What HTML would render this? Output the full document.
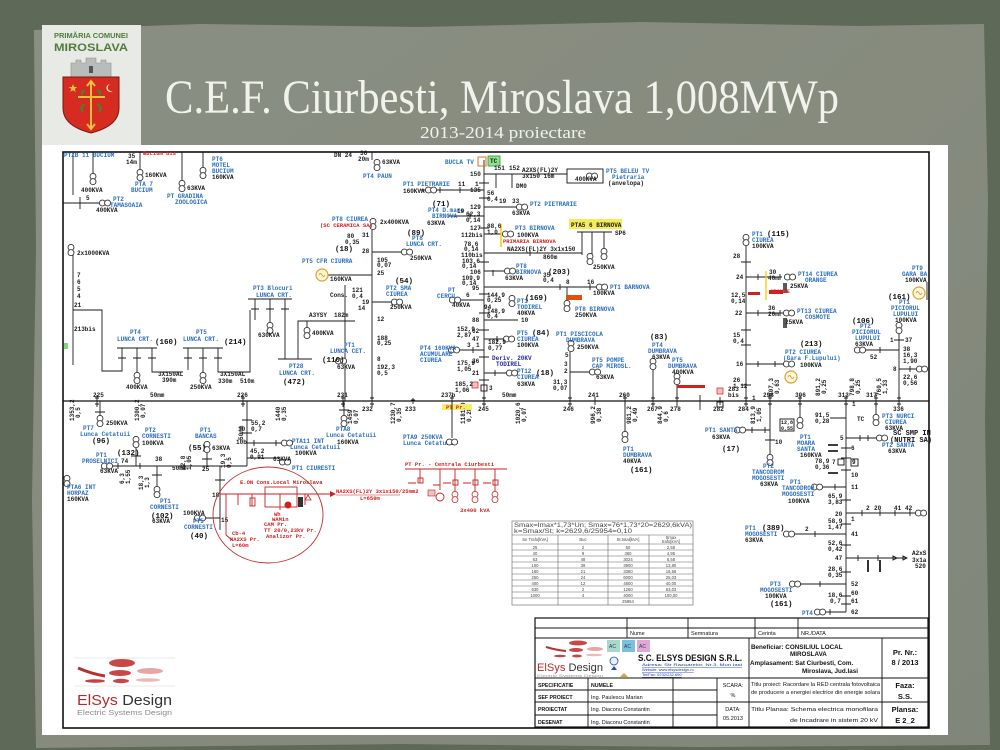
<!DOCTYPE html>
<html><head><meta charset="utf-8">
<style>
html,body{margin:0;padding:0;width:1000px;height:750px;overflow:hidden;background:#5f6957}
svg{display:block}
.t{font-family:"Liberation Mono",monospace;font-weight:bold;font-size:6px;fill:#1a1a1a}
.b{font-family:"Liberation Mono",monospace;font-weight:bold;font-size:6px;fill:#2c6fbf}
.r{font-family:"Liberation Mono",monospace;font-weight:bold;font-size:5.5px;fill:#d02020}
.k{font-family:"Liberation Mono",monospace;font-weight:bold;font-size:7.5px;fill:#111}
.s{font-family:"Liberation Sans",sans-serif;font-size:5.5px;fill:#111}
.sb{font-family:"Liberation Sans",sans-serif;font-weight:bold;fill:#111}
.ln{stroke:#1a1a1a;stroke-width:0.9;fill:none}
.rl{stroke:#c82020;stroke-width:0.9;fill:none}
.tr{stroke:#1a1a1a;stroke-width:0.8;fill:#fff}
.tb{stroke:#111;stroke-width:0.9;fill:none}
</style></head><body>
<svg width="1000" height="750" viewBox="0 0 1000 750" xmlns="http://www.w3.org/2000/svg">
<defs>
<g id="tv"><circle cx="0" cy="-2.6" r="3" class="tr"/><circle cx="0" cy="2.6" r="3" class="tr"/></g>
<g id="th"><circle cx="-2.6" cy="0" r="3" class="tr"/><circle cx="2.6" cy="0" r="3" class="tr"/></g>
<g id="trv"><circle cx="0" cy="-2.6" r="3" fill="#fff" stroke="#c82020" stroke-width="0.8"/><circle cx="0" cy="2.6" r="3" fill="#fff" stroke="#c82020" stroke-width="0.8"/></g>
<g id="gen"><circle cx="0" cy="0" r="6" fill="#fff6dc" stroke="#e0a028" stroke-width="1.2"/><path d="M-3,0 q1.5,-3 3,0 t3,0" stroke="#e0a028" stroke-width="0.9" fill="none"/></g>
<linearGradient id="pap" x1="0" y1="0" x2="1" y2="1"><stop offset="0" stop-color="#8a8f83"/><stop offset="0.5" stop-color="#868b7e"/><stop offset="1" stop-color="#80867a"/></linearGradient>
</defs>

<!-- background frame -->
<rect x="0" y="0" width="1000" height="750" fill="#5f6957"/>
<path d="M34,30 L200,24 L420,27 L640,22 L860,26 L984,24 L988,200 L985,420 L990,745 L700,747 L400,744 L36,748 L32,500 L36,250 Z" fill="url(#pap)"/>

<!-- header logo -->
<rect x="42" y="25" width="99" height="121" fill="#e8eae5"/>
<text x="91" y="38" text-anchor="middle" font-family="Liberation Sans,sans-serif" font-weight="bold" font-size="7.5" fill="#4f7d3c" textLength="74" lengthAdjust="spacingAndGlyphs">PRIMĂRIA COMUNEI</text>
<text x="91" y="51" text-anchor="middle" font-family="Liberation Sans,sans-serif" font-weight="bold" font-size="11" fill="#4f7d3c" textLength="74" lengthAdjust="spacingAndGlyphs">MIROSLAVA</text>
<path d="M71,77 L71,63 L76,63 L76,60 L81,60 L81,63 L86,63 L86,58 L96,58 L96,63 L101,63 L101,60 L106,60 L106,63 L111,63 L111,77 Z" fill="#b9bdba" stroke="#8d918e" stroke-width="0.6"/>
<rect x="89" y="66" width="4" height="7" fill="#555"/>
<path d="M63,77 L119,77 L119,108 Q119,126 91,133 Q63,126 63,108 Z" fill="#d52b20" stroke="#7a1712" stroke-width="1"/>
<path d="M91,82 L91,128 M78,97 L105,97 M87,86 L91,81 L95,86 M87,124 L91,129 L95,124" stroke="#f0c040" stroke-width="2" fill="none"/>
<path d="M85,104 q-6,3 -2,8 M97,104 q6,3 2,8 M85,90 q-5,2 -2,5 M97,90 q5,2 2,5" stroke="#3a8a30" stroke-width="2" fill="none"/>
<path d="M73,84 l1.2,3 3,0 -2.4,2 1,3 -2.8,-1.8 -2.8,1.8 1,-3 -2.4,-2 3,0 z" fill="#f0c040"/>
<path d="M110,84 a4,4 0 1,0 3,7 a3,3 0 1,1 -3,-7 z" fill="#f0e0b0"/>

<!-- title -->
<text x="165" y="113" font-family="Liberation Serif,serif" font-size="48" fill="#f2f2ec" textLength="674" lengthAdjust="spacingAndGlyphs">C.E.F. Ciurbesti, Miroslava 1,008MWp</text>
<text x="420" y="138" font-family="Liberation Serif,serif" font-size="17" fill="#f2f2ec" textLength="166" lengthAdjust="spacingAndGlyphs">2013-2014 proiectare</text>

<!-- white sheet -->
<rect x="42" y="145" width="906" height="590" fill="#ffffff"/>
<rect x="63" y="152" width="866" height="576" fill="none" stroke="#111" stroke-width="1.6"/>

<!-- main bus -->
<path d="M63,401 H929" stroke="#111" stroke-width="1.3"/>
<g class="ln">
<path d="M97,395v12M95,398h4M95,404h4 M243,395v12M241,398h4M241,404h4 M343,395v12M341,398h4M341,404h4 M372,395v12M370,398h4M370,404h4 M413,398v6M411,400h4 M452,395v12M450,398h4 M484,395v12M482,398h4M482,404h4 M570,395v12M568,398h4M568,404h4 M595,397v8 M625,395v12M623,398h4 M653,395v12M651,398h4M651,404h4 M677,395v12M675,398h4 M720,397v8 M746,395v12M744,398h4M744,404h4 M770,395v12M768,398h4M768,404h4 M800,395v12M798,398h4M798,404h4 M846,395v12M844,398h4M844,404h4 M876,395v12M874,398h4M874,404h4 M899,395v12M897,398h4M897,404h4"/>
</g>
<g class="t">
<text x="93" y="397">225</text><text x="150" y="397">50mm</text><text x="237" y="397">226</text><text x="337" y="397">231</text>
<text x="441" y="397">237b</text><text x="502" y="397">50mm</text><text x="588" y="397">241</text><text x="619" y="397">260</text>
<text x="362" y="411">232</text><text x="405" y="411">233</text><text x="478" y="411">245</text><text x="563" y="411">246</text>
<text x="647" y="411">267</text><text x="670" y="411">278</text><text x="713" y="411">282</text><text x="738" y="411">284</text>
<text x="763" y="397">298</text><text x="795" y="397">306</text><text x="838" y="397">313</text><text x="866" y="397">317</text><text x="893" y="411">336</text>
</g>

<!-- ===== upper left ===== -->
<g class="ln">
<path d="M73,152V195 M93,152V173 M140,152V169 M182,152V180 M203,152V167 M63,203H99 M80,197v12 M73,255V365 M73,310H102V371H113"/>
<path d="M117,348H157 M122,348V371H113 M137,348V372 M152,348V372H183 M183,348H223 M188,348V370 M203,348V372 M218,348V372H250V310"/>
<path d="M248,299H292 M255,299V320 M270,299V322 M285,299V359 M278,359H312 M298,359V321H355 M307,321V327"/>
<path d="M328,275H372 M345,285V401 M336,361H345 M372,230V401 M372,252H402 M372,302H392 M372,160V152"/>
<path d="M118,358h8M133,358h8M148,358h8M184,358h8M199,358h8M214,358h8M251,309h8M266,309h8M281,309h8"/>
</g>
<use href="#tv" x="93" y="179"/><use href="#tv" x="140" y="175"/><use href="#tv" x="182" y="186"/><use href="#tv" x="203" y="173"/>
<use href="#th" x="105" y="203"/><use href="#tv" x="71" y="250"/>
<use href="#tv" x="137" y="378"/><use href="#tv" x="203" y="378"/><use href="#tv" x="270" y="328"/><use href="#tv" x="307" y="333"/>
<use href="#th" x="341" y="361"/><use href="#gen" x="322" y="275"/><use href="#tv" x="373" y="224"/><use href="#th" x="407" y="252"/><use href="#th" x="397" y="302"/><use href="#tv" x="377" y="165"/>
<g class="b">
<text x="64" y="157">PTZB 11 BUCIUM</text>
<text x="135" y="186">PTA 7</text><text x="131" y="192">BUCIUM</text>
<text x="167" y="198">PT GRADINA</text><text x="175" y="204">ZOOLOGICA</text>
<text x="212" y="161">PT6</text><text x="212" y="167">MOTEL</text><text x="212" y="173">BUCIUM</text>
<text x="113" y="201">PT2</text><text x="110" y="207">TAMASOAIA</text>
<text x="130" y="334">PT4</text><text x="117" y="341">LUNCA CRT.</text>
<text x="196" y="334">PT5</text><text x="183" y="341">LUNCA CRT.</text>
<text x="253" y="290">PT3 Blocuri</text><text x="256" y="297">LUNCA CRT.</text>
<text x="289" y="368">PT28</text><text x="279" y="375">LUNCA CRT.</text>
<text x="302" y="263">PT5 CFR CIURRA</text>
<text x="332" y="221">PT8 CIUREA</text>
<text x="344" y="347">PT1</text><text x="330" y="353">LUNCA CET.</text>
<text x="363" y="178">PT4 PAUN</text>
<text x="412" y="240">PT8</text><text x="406" y="246">LUNCA CRT.</text>
<text x="386" y="290">PT2 SMA</text><text x="386" y="296">CIUREA</text>
</g>
<g class="t">
<text x="81" y="192">400KVA</text><text x="145" y="177">160KVA</text><text x="187" y="190">63KVA</text><text x="212" y="179">160KVA</text>
<text x="96" y="212">400KVA</text><text x="86" y="200">5</text><text x="128" y="158">35</text><text x="126" y="164">14m</text>
<text x="77" y="255">2x1000KVA</text><text x="77" y="277">7</text><text x="77" y="284">6</text><text x="77" y="291">5</text><text x="77" y="298">4</text><text x="74" y="307">21</text>
<text x="74" y="331">213bis</text><text x="126" y="389">400KVA</text><text x="190" y="389">250KVA</text>
<text x="158" y="376">3X150AL</text><text x="162" y="382">390m</text><text x="220" y="376">3X150AL</text><text x="218" y="383">330m</text><text x="240" y="383">510m</text>
<text x="258" y="337">630KVA</text><text x="309" y="317">A3YSY</text><text x="334" y="317">182m</text><text x="312" y="335">400KVA</text>
<text x="337" y="369">63KVA</text><text x="330" y="281">160KVA</text><text x="330" y="297">Cons.</text><text x="352" y="292">121</text><text x="352" y="298">0,4</text>
<text x="347" y="238">80</text><text x="345" y="244">0,35</text><text x="334" y="157">DN 24</text><text x="360" y="155">36</text><text x="358" y="161">20m</text><text x="382" y="164">63KVA</text>
<text x="380" y="224">2x400KVA</text><text x="362" y="237">31</text><text x="362" y="253">28</text><text x="377" y="262">105</text><text x="377" y="267">0,07</text><text x="377" y="275">25</text>
<text x="410" y="260">250KVA</text><text x="390" y="309">250KVA</text><text x="362" y="304">19</text><text x="377" y="321">12</text>
<text x="377" y="340">188</text><text x="377" y="345">0,25</text><text x="377" y="361">8</text><text x="377" y="369">192,3</text><text x="377" y="375">0,5</text><text x="358" y="310">14</text>
</g>
<g class="k"><text x="155" y="344">(160)</text><text x="224" y="344">(214)</text><text x="283" y="384">(472)</text><text x="335" y="251">(18)</text><text x="322" y="362">(110)</text><text x="407" y="235">(89)</text><text x="395" y="283">(54)</text></g>
<text class="r" x="143" y="155">Bucium bis</text>
<text class="r" x="320" y="227">(SC CERAMICA SA)</text>
<rect x="64" y="343" width="4" height="6" fill="#7ed67e"/>

<!-- ===== center column ===== -->
<g class="ln">
<path d="M484,160V401 M484,174H567 M420,190H484 M484,207H517 M448,216H484 M501,234H484 M484,253H582 M484,271H504 M484,287H596 M461,300H484 M484,320H518 M484,339H503 M460,350H484 M484,373H507 M496,174v14 M512,174v14 M577,232H612 M582,232V255 M592,232V255 M604,232V250 M567,287V302 M570,352V401 M570,372H590 M653,368V401 M677,385V401"/>
<path d="M479,183h10M479,198h10M479,228h10M479,262h10M479,294h10M479,313h10M479,330h10M479,357h10M479,380h10 M440,187v6M460,187v6M470,213v6M530,250v6M560,284v6M590,284v6M493,270v6M497,336v6M495,370v6M473,347v6"/>
</g>
<rect x="567" y="169" width="36" height="14" class="tb"/>
<rect x="478" y="157" width="8" height="9" fill="none" stroke="#e07020" stroke-width="1"/>
<rect x="488" y="156" width="12" height="10" fill="#8ee08e" stroke="#2a9a2a" stroke-width="0.8"/>
<text class="t" x="490" y="163">TC</text>
<path d="M501,224V247" stroke="#f0d000" stroke-width="1.5"/>
<rect x="569" y="219" width="53" height="10" fill="#f5ec58"/>
<rect x="566" y="295" width="16" height="5" fill="#e05010"/>
<rect x="472" y="382" width="6" height="6" fill="#f6c0c0" stroke="#d02020" stroke-width="0.7"/>
<rect x="481" y="385" width="6" height="6" class="tb"/>
<use href="#th" x="592" y="176"/><use href="#th" x="431" y="190"/><use href="#th" x="522" y="207"/><use href="#th" x="508" y="234"/>
<use href="#th" x="510" y="271"/><use href="#th" x="602" y="287"/><use href="#tv" x="590" y="259"/><use href="#tv" x="604" y="254"/><use href="#tv" x="567" y="306"/>
<use href="#th" x="455" y="300"/><use href="#tv" x="512" y="301"/><use href="#th" x="509" y="339"/><use href="#th" x="454" y="350"/><use href="#th" x="512" y="373"/>
<use href="#tv" x="571" y="346"/><use href="#th" x="595" y="372"/><use href="#tv" x="653" y="364"/><use href="#tv" x="677" y="379"/>
<g class="b">
<text x="445" y="164">BUCLA TV</text>
<text x="606" y="173">PT5 BELEU TV</text><text x="612" y="179">Pietraria</text>
<text x="403" y="186">PT1 PIETRARIE</text>
<text x="530" y="206">PT2 PIETRARIE</text>
<text x="428" y="212">PT4 D.mare</text><text x="432" y="218">BIRNOVA</text>
<text x="515" y="230">PT3 BIRNOVA</text>
<text x="516" y="268">PT8</text><text x="516" y="274">BIRNOVA</text>
<text x="610" y="289">PT1 BARNOVA</text>
<text x="575" y="311">PT8 BIRNOVA</text>
<text x="448" y="292">PT</text><text x="437" y="298">CERCU</text>
<text x="517" y="303">PT1</text><text x="517" y="309">TODIREL</text>
<text x="517" y="335">PT5</text><text x="517" y="341">CIUREA</text>
<text x="420" y="350">PT4 160KVA</text><text x="420" y="356">ACUMULARE</text><text x="420" y="362">CIUREA</text>
<text x="517" y="373">PT12</text><text x="517" y="379">CIUREA</text>
<text x="556" y="336">PT1 PISCICOLA</text><text x="566" y="342">DUMBRAVA</text>
<text x="592" y="362">PT5 POMPE</text><text x="592" y="368">CAP MIROSL.</text>
<text x="652" y="347">PT4</text><text x="648" y="353">DUMBRAVA</text>
<text x="672" y="362">PT5</text><text x="668" y="368">DUMBRAVA</text>
</g>
<text x="492" y="360" font-family="Liberation Mono,monospace" font-weight="bold" font-size="6" fill="#2a2a9a">Deriv. 20KV</text>
<text x="496" y="366" font-family="Liberation Mono,monospace" font-weight="bold" font-size="6" fill="#2a2a9a">TODIREL</text>
<g class="t">
<text x="470" y="176">150</text><text x="494" y="170">151</text><text x="509" y="170">152</text><text x="522" y="172">A2XS(FL)2Y</text><text x="522" y="178">3x150 16m</text>
<text x="575" y="181">400KVA</text><text x="608" y="185">(anvelopa)</text><text x="516" y="188">DM0</text>
<text x="403" y="193">160KVA</text><text x="458" y="186">11</text><text x="475" y="186">1</text>
<text x="470" y="192">135</text><text x="487" y="195">56</text><text x="487" y="201">0,4</text><text x="470" y="209">129</text><text x="499" y="203">19</text><text x="512" y="203">33</text><text x="512" y="215">63KVA</text>
<text x="427" y="225">63KVA</text><text x="457" y="213">19</text><text x="466" y="216">62,3</text><text x="466" y="222">0,14</text>
<text x="470" y="230">127</text><text x="487" y="228">88,6</text><text x="487" y="234">1,0</text><text x="517" y="237">100KVA</text>
<text x="461" y="237">112bis</text><text x="464" y="246">78,6</text><text x="464" y="251">0,14</text>
<text x="461" y="257">110bis</text><text x="507" y="251">NA2XS(FL)2Y 3x1x150</text><text x="543" y="259">860m</text>
<text x="462" y="263">103,6</text><text x="462" y="268">0,14</text><text x="470" y="274">106</text><text x="505" y="280">63KVA</text>
<text x="462" y="280">109,9</text><text x="462" y="285">0,14</text><text x="472" y="290">95</text><text x="543" y="277">35</text><text x="543" y="282">0,4</text>
<text x="593" y="295">100KVA</text><text x="566" y="284">8</text><text x="587" y="284">16</text>
<text x="571" y="227">PTA5 6 BIRNOVA</text><text x="615" y="235">SP6</text><text x="593" y="269">250KVA</text><text x="575" y="317">250KVA</text>
<text x="452" y="307">40KVA</text><text x="466" y="297">6</text><text x="487" y="297">144,9</text><text x="487" y="302">0,25</text><text x="484" y="309">94</text>
<text x="517" y="315">40KVA</text><text x="487" y="313">148,9</text><text x="487" y="318">0,4</text><text x="472" y="322">88</text><text x="521" y="322">10</text>
<text x="457" y="331">152,9</text><text x="457" y="337">2,87</text><text x="472" y="333">62</text><text x="472" y="341">47</text>
<text x="517" y="347">100KVA</text><text x="488" y="344">182,9</text><text x="488" y="350">0,77</text>
<text x="467" y="347">3</text><text x="476" y="347">1</text><text x="472" y="363">36</text>
<text x="457" y="365">175,9</text><text x="457" y="371">1,05</text><text x="472" y="375">21</text><text x="517" y="386">63KVA</text>
<text x="455" y="386">185,2</text><text x="455" y="392">1,06</text><text x="489" y="390">3</text>
<text x="577" y="349">250KVA</text><text x="565" y="357">5</text><text x="564" y="366">3</text><text x="564" y="373">2</text><text x="596" y="379">63KVA</text>
<text x="553" y="384">31,3</text><text x="553" y="390">0,07</text><text x="652" y="359">63KVA</text><text x="672" y="374">400KVA</text>
<text x="728" y="391">283</text><text x="728" y="397">bis</text>
</g>
<g class="k"><text x="432" y="206">(71)</text><text x="548" y="274">(203)</text><text x="525" y="300">(169)</text><text x="532" y="335">(84)</text><text x="536" y="375">(18)</text><text x="650" y="339">(83)</text></g>
<text class="r" x="503" y="243" font-size="4">PRIMARIA BIRNOVA</text>
<rect x="677" y="385" width="28" height="3" fill="#d02020"/>
<rect x="717" y="388" width="6" height="6" fill="#f6c0c0" stroke="#d02020" stroke-width="0.7"/>
<rect x="717" y="402" width="6" height="5" class="tb"/>

<!-- ===== right upper ===== -->
<g class="ln">
<path d="M746,245V401 M746,277H782 M746,313H783 M746,364H785 M899,334V401 M863,350H899 M899,369H918 M927,282V300"/>
<path d="M741,262h10M741,330h10M741,345h10M741,385h10 M758,274v6M780,274v6M758,310v6M780,310v6M758,361v6M775,361v6M880,347v6M910,366v6M894,340h10"/>
</g>
<path d="M766,271V300" stroke="#f0d000" stroke-width="1.3"/>
<rect x="748" y="292" width="12" height="3" fill="#d02020"/>
<rect x="769" y="290" width="14" height="4" fill="#d02020"/>
<use href="#tv" x="746" y="240"/><use href="#th" x="790" y="277"/><use href="#th" x="789" y="313"/><use href="#th" x="789" y="364"/>
<use href="#gen" x="791" y="377"/><use href="#tv" x="899" y="328"/><use href="#th" x="860" y="350"/><use href="#th" x="922" y="369"/><use href="#gen" x="919" y="293"/>
<path d="M784,283v10M786,283v10" stroke="#222" stroke-width="1.5"/>
<path d="M784,318v10M786,318v10" stroke="#222" stroke-width="1.5"/>
<g class="b">
<text x="752" y="236">PT1</text><text x="752" y="242">CIUREA</text>
<text x="798" y="276">PT14 CIUREA</text><text x="805" y="282">ORANGE</text>
<text x="797" y="313">PT13 CIUREA</text><text x="805" y="319">COSMOTE</text>
<text x="785" y="354">PT2 CIUREA</text><text x="783" y="360">(Gara F.Lupului)</text>
<text x="899" y="304">PT1</text><text x="891" y="310">PICIORUL</text><text x="893" y="316">LUPULUI</text>
<text x="860" y="328">PT2</text><text x="852" y="334">PICIORUL</text><text x="855" y="340">LUPULUI</text>
<text x="912" y="270">PT9</text><text x="902" y="276">GARA BA</text>
</g>
<g class="t">
<text x="752" y="248">100KVA</text><text x="733" y="258">28</text><text x="736" y="279">24</text><text x="769" y="274">30</text><text x="768" y="280">40m</text>
<text x="790" y="288">25KVA</text><text x="731" y="297">12,5</text><text x="731" y="303">0,14</text><text x="735" y="315">22</text><text x="768" y="310">36</text><text x="768" y="316">20m</text>
<text x="785" y="324">25KVA</text><text x="733" y="337">15</text><text x="733" y="343">0,4</text><text x="736" y="366">16</text><text x="800" y="367">100KVA</text>
<text x="733" y="382">26</text><text x="733" y="388">1,12</text><text x="752" y="400">1</text>
<text x="895" y="322">100KVA</text><text x="855" y="346">63KVA</text><text x="890" y="342">1</text><text x="905" y="342">37</text>
<text x="903" y="351">38</text><text x="903" y="357">16,3</text><text x="903" y="363">1,90</text><text x="870" y="359">52</text>
<text x="893" y="371">8</text><text x="903" y="379">22,6</text><text x="903" y="385">0,56</text><text x="905" y="282">100KVA</text>
</g>
<g class="k"><text x="767" y="236">(115)</text><text x="800" y="346">(213)</text><text x="888" y="299">(161)</text><text x="852" y="323">(106)</text></g>
<text class="r" x="770" y="293" font-size="3.5" fill="#fff">ORANGE</text>

<!-- rotated values below bus -->
<g class="t" font-size="5">
<text transform="translate(74,421) rotate(-90)">1353,2</text><text transform="translate(80,418) rotate(-90)">0,5</text>
<text transform="translate(139,421) rotate(-90)">1300,2</text><text transform="translate(145,418) rotate(-90)">0,07</text>
<text transform="translate(280,421) rotate(-90)">1440</text><text transform="translate(286,421) rotate(-90)">0,35</text>
<text transform="translate(352,424) rotate(-90)">1459</text><text transform="translate(358,424) rotate(-90)">0,07</text>
<text transform="translate(395,424) rotate(-90)">1230,7</text><text transform="translate(401,422) rotate(-90)">0,35</text>
<text transform="translate(465,424) rotate(-90)">1181,0</text><text transform="translate(471,422) rotate(-90)">0,28</text>
<text transform="translate(520,424) rotate(-90)">1020,6</text><text transform="translate(526,422) rotate(-90)">0,07</text>
<text transform="translate(595,424) rotate(-90)">996,2</text><text transform="translate(601,422) rotate(-90)">0,38</text>
<text transform="translate(631,424) rotate(-90)">981,2</text><text transform="translate(637,422) rotate(-90)">0,49</text>
<text transform="translate(662,424) rotate(-90)">844,9</text><text transform="translate(668,422) rotate(-90)">0,6</text>
<text transform="translate(755,424) rotate(-90)">813,9</text><text transform="translate(761,422) rotate(-90)">1,05</text>
<text transform="translate(773,396) rotate(-90)">807,3</text><text transform="translate(779,394) rotate(-90)">0,63</text>
<text transform="translate(820,396) rotate(-90)">891,2</text><text transform="translate(826,394) rotate(-90)">0,25</text>
<text transform="translate(854,396) rotate(-90)">798,8</text><text transform="translate(860,394) rotate(-90)">0,25</text>
<text transform="translate(881,396) rotate(-90)">760,5</text><text transform="translate(887,394) rotate(-90)">1,33</text>
<text transform="translate(243,440) rotate(-90)">50mm</text><text transform="translate(185,470) rotate(-90)">22,8</text><text transform="translate(191,470) rotate(-90)">1,05</text>
<text transform="translate(124,484) rotate(-90)">6,3</text><text transform="translate(130,484) rotate(-90)">1,55</text>
<text transform="translate(143,490) rotate(-90)">18,3</text><text transform="translate(149,488) rotate(-90)">1,3</text>
<text transform="translate(225,468) rotate(-90)">19,3</text><text transform="translate(231,468) rotate(-90)">0,5</text>
</g>

<!-- ===== lower left ===== -->
<g class="ln">
<path d="M100,401V417 M136,448V466 M112,466H247 M157,466V487 M207,451V466 M247,401V466 M247,443H282 M344,401V417 M220,466V530 M204,518H220 M63,477H70 M247,458H280"/>
<path d="M95,412h10M131,456h10M152,475h10M202,459h10M242,420h10M242,433h10M254,440v6M276,440v6M339,410h10M215,480h10M118,463v6M140,463v6"/>
</g>
<use href="#tv" x="100" y="421"/><use href="#tv" x="136" y="442"/><use href="#th" x="107" y="466"/><use href="#tv" x="157" y="492"/>
<use href="#tv" x="207" y="447"/><use href="#th" x="287" y="443"/><use href="#th" x="285" y="462"/><use href="#tv" x="344" y="421"/><use href="#th" x="200" y="518"/><use href="#tv" x="67" y="481"/>
<g class="b">
<text x="83" y="430">PT7</text><text x="80" y="436">Lunca Cetatuii</text>
<text x="145" y="432">PT2</text><text x="142" y="438">CORNESTI</text>
<text x="96" y="457">PT1</text><text x="82" y="463">PROSELNICI</text>
<text x="160" y="503">PT1</text><text x="150" y="509">CORNESTI</text>
<text x="200" y="432">PT1</text><text x="195" y="438">BANCAS</text>
<text x="292" y="443">PTA11 INT</text><text x="290" y="449">Lunca Cetatuii</text>
<text x="292" y="470">PT1 CIURESTI</text>
<text x="193" y="523">PT5</text><text x="184" y="529">CORNESTI</text>
<text x="67" y="489">PTA6 INT</text><text x="67" y="495">HORPAZ</text>
<text x="336" y="431">PTA8</text><text x="326" y="437">Lunca Cetatuii</text>
<text x="403" y="439">PTA9 250KVA</text><text x="403" y="445">Lunca Cetatuii</text>
<text x="623" y="451">PT1</text><text x="623" y="457">DUMBRAVA</text>
</g>
<g class="t">
<text x="106" y="425">250KVA</text><text x="142" y="445">100KVA</text><text x="100" y="473">63KVA</text><text x="121" y="463">74</text><text x="155" y="461">38</text>
<text x="172" y="470">50mm</text><text x="202" y="471">25</text><text x="152" y="523">63KVA</text><text x="212" y="450">63KVA</text>
<text x="238" y="431">10</text><text x="236" y="444">10b</text><text x="251" y="425">55,2</text><text x="251" y="431">0,7</text><text x="295" y="455">100KVA</text>
<text x="250" y="453">45,2</text><text x="250" y="459">0,91</text><text x="273" y="461">63KVA</text><text x="212" y="497">18</text><text x="221" y="522">15</text>
<text x="183" y="515">100KVA</text><text x="67" y="501">160KVA</text><text x="337" y="444">160KVA</text>
<text x="623" y="463">40KVA</text>
</g>
<g class="k"><text x="92" y="443">(96)</text><text x="117" y="455">(132)</text><text x="151" y="518">(102)</text><text x="188" y="450">(55)</text><text x="190" y="538">(40)</text><text x="630" y="472">(161)</text></g>

<!-- red circle area -->
<ellipse cx="268" cy="515" rx="55" ry="48" fill="none" stroke="#c03030" stroke-width="0.9"/>
<g class="rl">
<path d="M220,494H335 M226,494V535 M238,494V505 M252,494V506 M280,494V510 M305,494V505 M226,535L232,540"/>
<rect x="265" y="487" width="32" height="20"/>
<rect x="250" y="498" width="5" height="8"/>
</g>
<path d="M330,491L336,494L330,497Z" fill="#c82020"/>
<circle cx="288" cy="505" r="3.5" fill="#d02020"/>
<rect x="298" y="497" width="5" height="10" fill="#333"/>
<path d="M305,500l3,-5 3,5z" fill="none" stroke="#c82020" stroke-width="0.8"/>
<g class="r">
<text x="240" y="484">E.ON Cons.Local Miroslava</text>
<text x="336" y="493">NA2XS(FL)2Y 3x1x150/25mm2</text><text x="360" y="500">L=650m</text>
<text x="274" y="516">Wh</text><text x="272" y="521">WAMin</text>
<text x="264" y="526">CAM Pr.</text><text x="264" y="532">TT 20/0,23kV Pr.</text><text x="266" y="538">Analizor Pr.</text>
<text x="232" y="535">Cb-4</text><text x="230" y="541">NA2XS Pr.</text><text x="232" y="547">L=60m</text>
</g>
<path d="M336,495H400" stroke="#c82020" stroke-width="0.6"/>

<!-- PT Pr centrala -->
<text class="r" x="405" y="466" font-size="6.5">PT Pr. - Centrala Ciurbesti</text>
<g class="rl">
<path d="M405,469H507 M420,469V483 M440,469V490 M455,469V492 M475,469V492 M495,469V492 M433,485H440"/>
<rect x="418" y="478" width="5" height="5"/><rect x="453" y="480" width="5" height="5"/><rect x="473" y="480" width="5" height="5"/><rect x="493" y="480" width="5" height="5"/>
<path d="M408,483h8M443,483h8M463,483h8M483,483h8"/>
</g>
<use href="#trv" x="455" y="497"/><use href="#trv" x="475" y="497"/><use href="#trv" x="495" y="497"/>
<circle cx="440" cy="497" r="4" fill="none" stroke="#c82020" stroke-width="0.9"/>
<rect x="428" y="490" width="7" height="6" fill="#f0c0c0" stroke="#c82020" stroke-width="0.6"/>
<text class="r" x="460" y="512">3x400 kVA</text>
<rect x="442" y="404" width="30" height="6" fill="#f4ec70"/>
<text class="r" x="446" y="409" font-size="4.5">PT Pr.</text>
<g class="ln"><path d="M452,401V438 M625,401V432"/></g>
<use href="#th" x="452" y="442"/><use href="#tv" x="625" y="437"/>

<!-- ===== lower right ===== -->
<g class="ln">
<path d="M846,401V612 M876,401V415 M846,438H877 M800,401V418 M770,401V455 M745,430H770 M700,395V410 M820,487H846 M846,513H917 M794,534H846 M846,558H907 M800,584H846 M826,612H846 M830,418H846"/>
<path d="M841,448h10M841,458h10M841,470h10M841,500h10M841,524h10M841,545h10M841,572h10M841,596h10M841,604h10 M860,435v6M868,435v6M862,510v6M880,510v6M895,510v6M910,510v6M835,484v6M815,531v6M858,555v6M878,555v6M820,581v6M830,609v6M752,427v6M765,427v6M765,440h10"/>
<path d="M897,558l-4,-2v4z M907,558l-4,-2v4z"/>
</g>
<path d="M828,445h10M828,451h10M828,473h10" stroke="#222" stroke-width="1.8"/>
<path d="M880,560v12M868,560v12" stroke="#333" stroke-width="2"/>
<rect x="838" y="459" width="6" height="6" class="tb"/><rect x="851" y="459" width="7" height="7" class="tb"/>
<rect x="780" y="419" width="14" height="12" class="tb"/>
<use href="#tv" x="876" y="420"/><use href="#th" x="882" y="438"/><use href="#tv" x="800" y="423"/><use href="#tv" x="770" y="460"/>
<use href="#th" x="740" y="430"/><use href="#th" x="817" y="487"/><use href="#th" x="921" y="513"/><use href="#th" x="789" y="534"/>
<use href="#th" x="795" y="584"/><use href="#th" x="820" y="612"/>
<g class="b">
<text x="882" y="418">PT3 NURCI</text><text x="885" y="424">CIUREA</text>
<text x="882" y="447">PT2 SANTA</text>
<text x="800" y="439">PT1</text><text x="797" y="445">MOARA</text><text x="797" y="451">SANTA</text>
<text x="763" y="468">PT2</text><text x="752" y="474">TANCODROM</text><text x="752" y="480">MOGOSESTI</text>
<text x="705" y="432">PT1 SANTA</text>
<text x="790" y="484">PT1</text><text x="782" y="490">TANCODROM</text><text x="782" y="496">MOGOSESTI</text>
<text x="745" y="530">PT1</text><text x="745" y="536">MOGOSESTI</text>
<text x="770" y="586">PT3</text><text x="760" y="592">MOGOSESTI</text>
<text x="802" y="615">PT4</text>
</g>
<g class="t">
<text x="885" y="430">63KVA</text><text x="888" y="453">63KVA</text><text x="852" y="406">1</text><text x="857" y="421">TC</text>
<text x="815" y="417">91,5</text><text x="815" y="423">0,28</text><text x="840" y="440">5</text><text x="851" y="450">6</text>
<text x="815" y="463">78,9</text><text x="815" y="469">0,36</text><text x="832" y="464">7</text><text x="852" y="464">9</text><text x="851" y="477">10</text><text x="851" y="489">11</text>
<text x="828" y="498">65,9</text><text x="828" y="504">3,83</text><text x="835" y="516">20</text><text x="851" y="521">1</text>
<text x="866" y="510">2</text><text x="874" y="510">20</text><text x="894" y="510">41</text><text x="905" y="510">42</text>
<text x="828" y="523">58,9</text><text x="828" y="529">1,47</text><text x="851" y="536">41</text><text x="828" y="545">52,6</text><text x="828" y="551">0,42</text>
<text x="835" y="560">47</text><text x="912" y="555">A2xS</text><text x="912" y="562">3x1a</text><text x="915" y="568">520</text>
<text x="828" y="571">28,6</text><text x="828" y="577">0,35</text><text x="851" y="586">52</text><text x="828" y="597">18,6</text><text x="830" y="603">0,7</text>
<text x="851" y="595">60</text><text x="851" y="603">61</text><text x="851" y="614">62</text>
<text x="800" y="457">160KVA</text><text x="781" y="424" font-size="5">12,8</text><text x="781" y="430" font-size="5">0,55</text><text x="775" y="444">10</text>
<text x="760" y="486">63KVA</text><text x="712" y="439">63KVA</text><text x="788" y="503">100KVA</text>
<text x="745" y="542">63KVA</text><text x="805" y="531">2</text><text x="765" y="598">100KVA</text>
</g>
<text x="893" y="435" font-family="Liberation Mono,monospace" font-weight="bold" font-size="7" fill="#111">SC SMP IN</text>
<text x="890" y="442" font-family="Liberation Mono,monospace" font-weight="bold" font-size="7" fill="#111">(NUTRI SA)</text>
<g class="k"><text x="722" y="451">(17)</text><text x="762" y="530">(389)</text><text x="770" y="606">(161)</text></g>

<!-- table -->
<g font-family="Liberation Sans,sans-serif" fill="#444">
<rect x="512" y="521" width="181" height="84" fill="#fff" stroke="#777" stroke-width="0.7"/>
<text x="514" y="527" font-size="6" textLength="178" lengthAdjust="spacingAndGlyphs">Smax=Imax*1,73*Un; Smax=76*1,73*20=2629,6kVA)</text>
<text x="514" y="533" font-size="6" textLength="118" lengthAdjust="spacingAndGlyphs">k=Smax/St; k=2629,6/25954=0,10</text>
<g stroke="#666" stroke-width="0.6">
<path d="M512,535H693 M512,544H693 M512,550H693 M512,556H693 M512,562H693 M512,568H693 M512,574H693 M512,580H693 M512,586H693 M512,592H693 M512,598H693 M558,535V605 M608,535V605 M649,535V605"/>
</g>
<g font-size="4.2" text-anchor="middle">
<text x="535" y="541">Sn Trafo[kVA]</text><text x="583" y="541">Buc</text><text x="628" y="541">St.total[kVA]</text><text x="671" y="539">Smax</text><text x="671" y="543">trafo[kVA]</text>
<text x="535" y="549">25</text><text x="583" y="549">2</text><text x="628" y="549">50</text><text x="671" y="549">2,58</text>
<text x="535" y="555">40</text><text x="583" y="555">9</text><text x="628" y="555">360</text><text x="671" y="555">4,95</text>
<text x="535" y="561">63</text><text x="583" y="561">48</text><text x="628" y="561">3024</text><text x="671" y="561">6,58</text>
<text x="535" y="567">100</text><text x="583" y="567">39</text><text x="628" y="567">3900</text><text x="671" y="567">13,80</text>
<text x="535" y="573">160</text><text x="583" y="573">21</text><text x="628" y="573">3360</text><text x="671" y="573">16,56</text>
<text x="535" y="579">250</text><text x="583" y="579">24</text><text x="628" y="579">6000</text><text x="671" y="579">25,03</text>
<text x="535" y="585">400</text><text x="583" y="585">12</text><text x="628" y="585">4800</text><text x="671" y="585">40,00</text>
<text x="535" y="591">630</text><text x="583" y="591">2</text><text x="628" y="591">1260</text><text x="671" y="591">63,03</text>
<text x="535" y="597">1000</text><text x="583" y="597">4</text><text x="628" y="597">4000</text><text x="671" y="597">100,00</text>
<text x="628" y="603">25954</text>
</g>
</g>

<!-- bottom-left logo -->
<path d="M75,658H175 M75,686H175" stroke="#e4e4e4" stroke-width="0.8"/>
<ellipse cx="122" cy="663" rx="13" ry="4" fill="#c84848"/>
<path d="M78,668 Q92,674 105,676" stroke="#b83030" stroke-width="3" fill="none"/>
<ellipse cx="120" cy="673" rx="11" ry="3" fill="#c84848"/>
<ellipse cx="150" cy="671" rx="13" ry="3" fill="#e6a6a6"/>
<ellipse cx="95" cy="681" rx="10" ry="1.8" fill="#c04444"/>
<ellipse cx="121" cy="681" rx="8" ry="2.2" fill="#c84848"/>
<ellipse cx="148" cy="680" rx="12" ry="1.8" fill="#ecb8b8"/>
<text x="77" y="705" font-family="Liberation Sans,sans-serif" font-size="15" textLength="95" lengthAdjust="spacingAndGlyphs"><tspan fill="#b62a2a">ElSys</tspan><tspan fill="#333"> Design</tspan></text>
<text x="77" y="715" font-family="Liberation Sans,sans-serif" font-size="7" fill="#8a8a8a" textLength="95" lengthAdjust="spacingAndGlyphs">Electric Systems Design</text>

<!-- title block -->
<rect x="535" y="618" width="393" height="109" fill="#fff" stroke="#111" stroke-width="1.2"/>
<g class="tb">
<path d="M535,628H928 M535,638H928 M535,678H928 M535,690H717 M535,702H928 M535,715H717"/>
<path d="M627,618V638 M688,618V638 M755,618V638 M798,618V638 M749,638V727 M882,638V727 M588,678V727 M673,678V727 M717,678V727"/>
</g>
<g class="s" font-size="6.5">
<text x="630" y="635">Nume</text><text x="691" y="635">Semnatura</text><text x="758" y="635">Cerinta</text><text x="801" y="635">NR./DATA</text>
</g>
<ellipse cx="578" cy="643" rx="9" ry="2.5" fill="#c84848"/>
<path d="M546,647 Q556,650 566,651" stroke="#b83030" stroke-width="2" fill="none"/>
<ellipse cx="576" cy="650" rx="7" ry="2" fill="#c84848"/>
<ellipse cx="595" cy="649" rx="8" ry="2" fill="#e6a6a6"/>
<ellipse cx="560" cy="656" rx="6" ry="1.3" fill="#c04444"/>
<ellipse cx="577" cy="656" rx="5" ry="1.5" fill="#c84848"/>
<ellipse cx="594" cy="655" rx="8" ry="1.3" fill="#ecb8b8"/>
<text x="537" y="671" font-family="Liberation Sans,sans-serif" font-size="11" textLength="66" lengthAdjust="spacingAndGlyphs"><tspan fill="#b62a2a">ElSys</tspan><tspan fill="#333"> Design</tspan></text>
<text x="537" y="677" font-family="Liberation Sans,sans-serif" font-size="4" fill="#999" textLength="66" lengthAdjust="spacingAndGlyphs">Electric Systems Design</text>
<rect x="607" y="640" width="13" height="12" fill="#a8d8c8"/><rect x="622" y="640" width="13" height="12" fill="#7cc0e0"/><rect x="637" y="640" width="13" height="12" fill="#e0a8d8"/>
<text x="609" y="648" font-family="Liberation Sans,sans-serif" font-size="5" fill="#336">AC</text><text x="624" y="648" font-family="Liberation Sans,sans-serif" font-size="5" fill="#336">AC</text><text x="639" y="648" font-family="Liberation Sans,sans-serif" font-size="5" fill="#336">AC</text>
<circle cx="614" cy="661" r="4" fill="#e8f0ff" stroke="#2a4aa0" stroke-width="0.8"/>
<path d="M611,670l3,-4 3,4z" fill="#2a4aa0"/><path d="M620,677l4,-4 4,4z" fill="#e0a030"/>
<text x="638" y="661" class="sb" font-size="9.5" textLength="104" lengthAdjust="spacingAndGlyphs">S.C. ELSYS DESIGN S.R.L.</text>
<g font-family="Liberation Sans,sans-serif" font-size="4" fill="#1a3aa8" text-decoration="underline">
<text x="642" y="666" textLength="100" lengthAdjust="spacingAndGlyphs">Adresa: Str Razoarelor, Nr.3, Mun Iasi</text>
<text x="642" y="671">Website: www.elsysdesign.ro</text>
<text x="642" y="676">Tel/Fax: 0232/232.690</text>
</g>
<g class="sb" font-size="6.3">
<text x="751" y="649">Beneficiar: CONSILIUL LOCAL</text>
<text x="790" y="656">MIROSLAVA</text>
<text x="750" y="665">Amplasament: Sat Ciurbesti, Com.</text>
<text x="802" y="673">Miroslava, Jud.Iasi</text>
</g>
<g class="sb" font-size="7.5" text-anchor="middle">
<text x="905" y="655">Pr. Nr.:</text><text x="905" y="665">8 / 2013</text>
<text x="905" y="688">Faza:</text><text x="905" y="699">S.S.</text>
<text x="905" y="712">Plansa:</text><text x="905" y="723">E 2_2</text>
</g>
<g class="sb" font-size="5.2">
<text x="538" y="687">SPECIFICATIE</text><text x="538" y="699">SEF PROIECT</text><text x="538" y="711">PROIECTAT</text><text x="538" y="724">DESENAT</text>
<text x="591" y="687">NUMELE</text>
</g>
<g class="s" font-size="5.2">
<text x="591" y="699">Ing. Paulescu Marian</text><text x="591" y="711">Ing. Diaconu Constantin</text><text x="591" y="724">Ing. Diaconu Constantin</text>
</g>
<g class="s" font-size="5.2" text-anchor="middle">
<text x="733" y="687">SCARA:</text><text x="733" y="697">%</text><text x="733" y="711">DATA:</text><text x="733" y="720">05.2013</text>
</g>
<g class="s" font-size="3.8">
<text x="751" y="686" textLength="129" lengthAdjust="spacingAndGlyphs">Titlu proiect: Racordare la RED centrala fotovoltaica</text>
<text x="751" y="694" textLength="129" lengthAdjust="spacingAndGlyphs">de producere a energiei electrice din energie solara</text>
</g>
<g class="s" font-size="6">
<text x="751" y="711" textLength="127" lengthAdjust="spacingAndGlyphs">Titlu Plansa: Schema electrica monofilara</text>
<text x="790" y="722" textLength="88" lengthAdjust="spacingAndGlyphs">de Incadrare in sistem 20 kV</text>
</g>
</svg>
</body></html>
